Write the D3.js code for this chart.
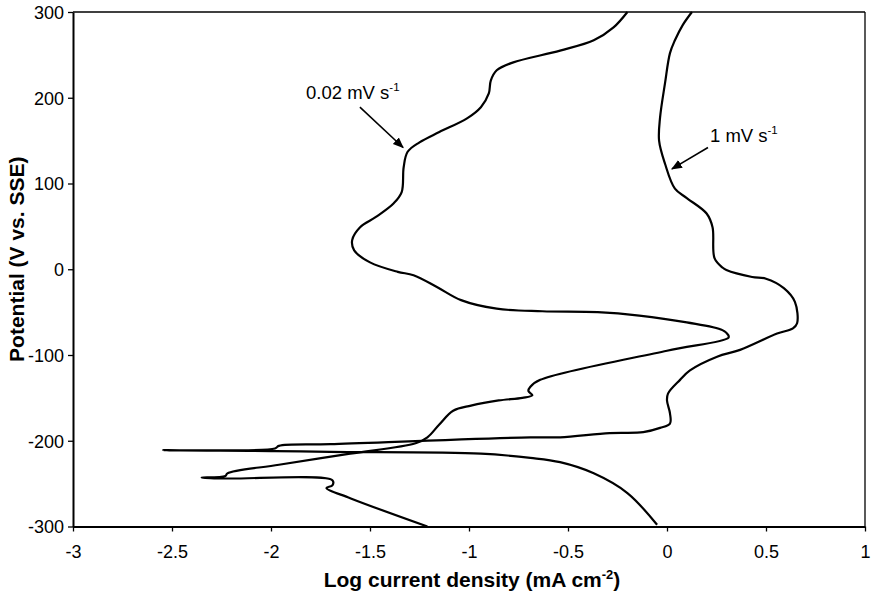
<!DOCTYPE html>
<html>
<head>
<meta charset="utf-8">
<script src="https://cdn.jsdelivr.net/npm/d3@7"></script>
<style>
  html, body { margin: 0; padding: 0; background: #fff; }
  svg { display: block; }
  text { font-family: "Liberation Sans", Arial, sans-serif; fill: #000; }
</style>
</head>
<body>
<svg id="chart" width="873" height="594"></svg>
<script>
// ---- Data (Log current density, Potential mV) ----
const slowLogI = [-0.20,-0.27,-0.37,-0.54,-0.78,-0.86,-0.89,-0.90,-0.94,-1.01,-1.15,-1.25,-1.31,-1.33,-1.34,-1.38,-1.47,-1.55,-1.59,-1.58,-1.50,-1.36,-1.28,-1.16,-1.04,-0.86,-0.63,-0.35,-0.14,0.10,0.28,0.31,0.31,0.00,-0.64,-0.69,-0.70,-0.68,-0.73,-0.85,-0.99,-1.08,-1.15,-1.21,-1.27,-1.60,-1.96,-2.22,-2.23,-2.35,-2.22,-1.69,-1.69,-1.72,-1.60,-1.21];
const slowE    = [300,282,267,255,241,232,220,205,189,176,160,148,137,119,90,77,61,49,34,22,8,-3,-7,-21,-36,-46,-49,-50,-54,-62,-71,-77,-80,-95,-129,-137,-142,-147,-150,-153,-159,-165,-181,-196,-203,-215,-228,-238,-241,-243,-244,-246,-252,-255,-267,-300];

const fastLogI = [0.126,0.08,0.04,0.015,-0.01,-0.035,-0.04,-0.01,0.04,0.10,0.20,0.23,0.24,0.28,0.30,0.43,0.50,0.59,0.646,0.657,0.636,0.556,0.369,0.253,0.116,0.066,0.005,0.0,0.015,0.015,-0.035,-0.12,-0.29,-0.54,-0.69,-1.70,-1.96,-1.98,-2.545,-1.98,-1.70,-0.94,-0.69,-0.54,-0.37,-0.20,-0.05];
const fastE    = [300,285,267,252,217,177,150,123,94,83,65,49,13,2,-1,-9,-11,-22,-38,-63,-69,-75,-94,-102,-118,-129,-145,-153,-168,-180,-185,-190,-191,-196,-196,-204,-206,-209,-211,-212,-213,-215,-220,-225,-238,-261,-298];

const xTicks = [-3,-2.5,-2,-1.5,-1,-0.5,0,0.5,1];
const yTicks = [-300,-200,-100,0,100,200,300];
const xTitle = "Log current density (mA cm";
const xTitleSup = "-2";
const yTitle = "Potential (V vs. SSE)";
const labelSlow = "0.02 mV s", labelFast = "1 mV s", labelSup = "-1";
// annotation anchors in data units
const annSlow = {tx:-1.823, ty:198, ax0:-1.551, ay0:189, ax1:-1.333, ay1:142};
const annFast = {tx:0.217, ty:148.5, ax0:0.207, ay0:142, ax1:0.025, ay1:117};

// ---- Layout ----
const svg = d3.select("#chart");
const L = 73, R = 865, T = 12, B = 526.5;
const x = d3.scaleLinear().domain([-3, 1]).range([L, R]);
const y = d3.scaleLinear().domain([-300, 300]).range([B, T]);

// frame (top & right)
svg.append("line").attr("x1", L).attr("x2", R).attr("y1", T).attr("y2", T)
  .attr("stroke", "#000").attr("stroke-width", 1.6);
svg.append("line").attr("x1", R).attr("x2", R).attr("y1", T).attr("y2", B)
  .attr("stroke", "#000").attr("stroke-width", 1.3);

// axes
const xAxis = d3.axisBottom(x).tickValues(xTicks).tickSize(5).tickSizeOuter(0)
  .tickFormat(d => String(d));
const gx = svg.append("g").attr("transform", `translate(0,${B})`).call(xAxis);
const yAxis = d3.axisLeft(y).tickValues(yTicks).tickSize(5).tickSizeOuter(0)
  .tickFormat(d => String(d));
const gy = svg.append("g").attr("transform", `translate(${L},0)`).call(yAxis);
[gx, gy].forEach(g => {
  g.select(".domain").attr("stroke", "#000").attr("stroke-width", 2);
  g.selectAll(".tick line").attr("stroke", "#000").attr("stroke-width", 1.3);
  g.selectAll(".tick text").attr("font-size", 18).attr("fill", "#000")
    .attr("font-family", '"Liberation Sans", Arial, sans-serif');
});
gx.selectAll(".tick text").attr("dy", null).attr("y", 31);
gy.selectAll(".tick text").attr("x", -9).attr("dy", "0.36em");

// titles
const xt = svg.append("text").attr("x", (L + R) / 2 + 3).attr("y", 587)
  .attr("text-anchor", "middle").attr("font-size", 21).attr("font-weight", "bold");
xt.append("tspan").text(xTitle);
xt.append("tspan").attr("dy", -8).attr("font-size", 13).text(xTitleSup);
xt.append("tspan").attr("dy", 8).text(")");

svg.append("text").attr("transform", `translate(24,${(T + B) / 2 - 10}) rotate(-90)`)
  .attr("text-anchor", "middle").attr("font-size", 21).attr("font-weight", "bold")
  .text(yTitle);

// curves
const line = d3.line().x(d => x(d[0])).y(d => y(d[1])).curve(d3.curveCatmullRom.alpha(0.5));
const slow = slowLogI.map((v, i) => [v, slowE[i]]);
const fast = fastLogI.map((v, i) => [v, fastE[i]]);
[slow, fast].forEach(data => {
  svg.append("path").datum(data).attr("d", line)
    .attr("fill", "none").attr("stroke", "#000").attr("stroke-width", 2.2)
    .attr("stroke-linejoin", "round");
});

// annotations
svg.append("defs").append("marker").attr("id", "arr")
  .attr("viewBox", "0 0 10 10").attr("refX", 9).attr("refY", 5)
  .attr("markerWidth", 11).attr("markerHeight", 11).attr("markerUnits", "userSpaceOnUse")
  .attr("orient", "auto")
  .append("path").attr("d", "M0,1 L10,5 L0,9 Z").attr("fill", "#000");

[[annSlow, labelSlow], [annFast, labelFast]].forEach(([a, lab]) => {
  const t = svg.append("text").attr("x", x(a.tx)).attr("y", y(a.ty)).attr("font-size", 18.5);
  t.append("tspan").text(lab);
  t.append("tspan").attr("dy", -8).attr("font-size", 11.5).text(labelSup);
  svg.append("line").attr("x1", x(a.ax0)).attr("y1", y(a.ay0))
    .attr("x2", x(a.ax1)).attr("y2", y(a.ay1))
    .attr("stroke", "#000").attr("stroke-width", 1.6).attr("marker-end", "url(#arr)");
});
</script>
</body>
</html>
